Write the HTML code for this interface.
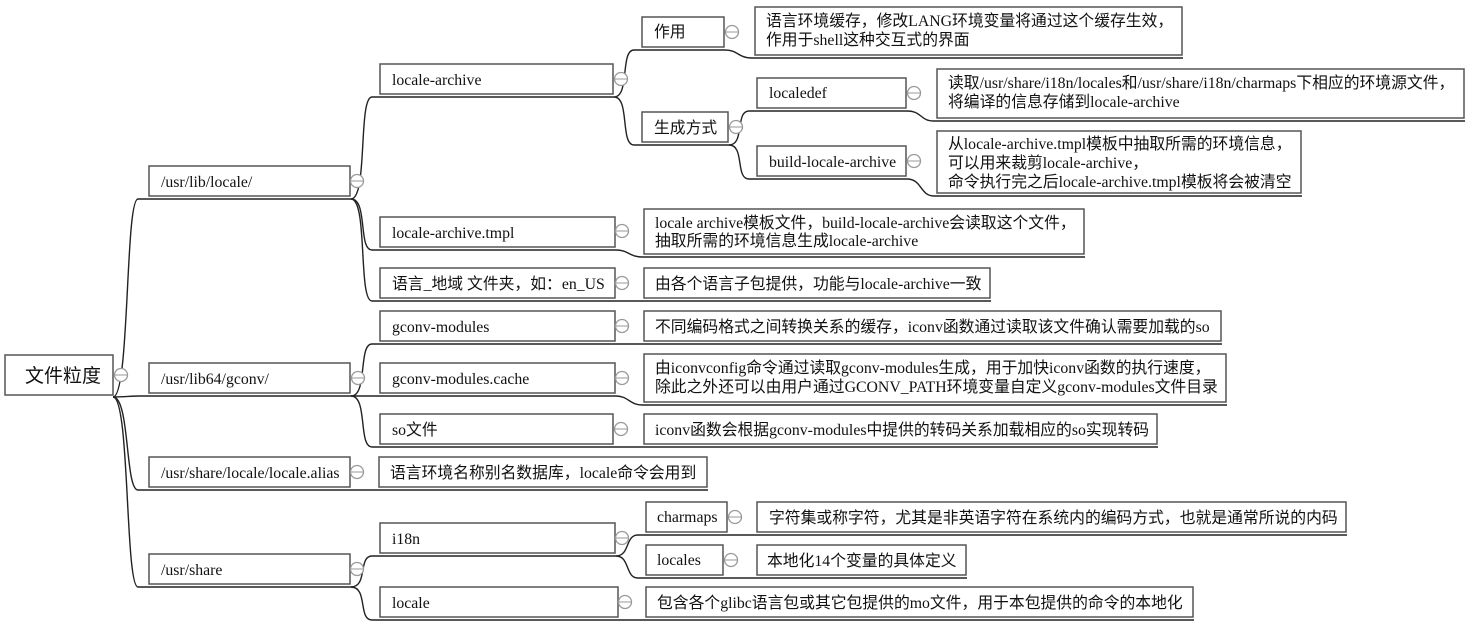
<!DOCTYPE html>
<html><head><meta charset="utf-8"><style>
html,body{margin:0;padding:0;background:#fff;}
svg{display:block}
text{font-family:"Liberation Serif","Noto Sans CJK SC",serif;font-size:15.8px;fill:#111}
.b{fill:#fff;stroke:#555;stroke-width:1.5}
.l{fill:none;stroke:#222;stroke-width:1.4}
.c{fill:#fff;stroke:#999;stroke-width:1.3}
</style></head><body>
<svg width="1476" height="637" viewBox="0 0 1476 637" xmlns="http://www.w3.org/2000/svg">
<g class="l">
<path d="M113 397 C130 397 125 199 138 199 L351 199"/>
<path d="M113 397 C125 397 130 396 140 396 L351 396"/>
<path d="M113 397 C130 397 125 490 138 490 L351 490"/>
<path d="M113 397 C130 397 125 587 138 587 L351 587"/>
<path d="M351 199 C368 199 358 97 372 97 L614 97"/>
<path d="M351 199 C368 199 358 250 372 250 L616 250"/>
<path d="M351 199 C368 199 358 301 372 301 L616 301"/>
<path d="M351 396 C368 396 358 344 372 344 L616 344"/>
<path d="M351 396 L616 396"/>
<path d="M351 396 C368 396 358 447 372 447 L614 447"/>
<path d="M351 490 L708 490"/>
<path d="M351 587 C368 587 358 556 372 556 L616 556"/>
<path d="M351 587 C368 587 358 620 372 620 L619 620"/>
<path d="M614 97 C630 97 620 50 634 50 L725 50"/>
<path d="M614 97 C630 97 620 145 634 145 L729 145"/>
<path d="M725 50 C738 50 738 58 752 58 L1183 58"/>
<path d="M729 145 C745 145 735 111 749 111 L907 111"/>
<path d="M729 145 C745 145 735 179 749 179 L907 179"/>
<path d="M907 111 C922 111 920 121 934 121 L1465 121"/>
<path d="M907 179 C922 179 920 196 934 196 L1302 196"/>
<path d="M616 250 C628 250 630 257 642 257 L1085 257"/>
<path d="M616 301 L991 301"/>
<path d="M616 344 L1222 344"/>
<path d="M616 396 C628 396 630 405 642 405 L1227 405"/>
<path d="M614 447 L1158 447"/>
<path d="M616 556 C630 556 625 535 638 535 L728 535"/>
<path d="M616 556 C630 556 625 578 638 578 L724 578"/>
<path d="M728 535 L1347 535"/>
<path d="M724 578 L967 578"/>
<path d="M619 620 L1194 620"/>
</g>
<rect class="b" x="5" y="355" width="108" height="40"/>
<text x="25" y="382" style="font-size:19px">文件粒度</text>
<rect class="b" x="149" y="166" width="201" height="30"/><text x="161" y="187">/usr/lib/locale/</text>
<rect class="b" x="149" y="363" width="201" height="30"/><text x="161" y="384">/usr/lib64/gconv/</text>
<rect class="b" x="149" y="457" width="201" height="30"/><text x="161" y="478">/usr/share/locale/locale.alias</text>
<rect class="b" x="149" y="554" width="201" height="30"/><text x="161" y="575">/usr/share</text>

<rect class="b" x="380" y="64" width="233" height="30"/><text x="392" y="85">locale-archive</text>
<rect class="b" x="380" y="217" width="235" height="30"/><text x="392" y="238">locale-archive.tmpl</text>
<rect class="b" x="380" y="268" width="235" height="30"/><text x="392" y="289">语言_地域 文件夹，如：en_US</text>
<rect class="b" x="380" y="311" width="235" height="30"/><text x="392" y="332">gconv-modules</text>
<rect class="b" x="380" y="363" width="235" height="30"/><text x="392" y="384">gconv-modules.cache</text>
<rect class="b" x="380" y="414" width="233" height="30"/><text x="392" y="435">so文件</text>
<rect class="b" x="379" y="457" width="328" height="30"/><text x="390" y="478">语言环境名称别名数据库，locale命令会用到</text>
<rect class="b" x="380" y="523" width="235" height="30"/><text x="392" y="544">i18n</text>
<rect class="b" x="380" y="587" width="238" height="30"/><text x="392" y="608">locale</text>

<rect class="b" x="642" y="17" width="82" height="30"/><text x="654" y="37">作用</text>
<rect class="b" x="642" y="112" width="86" height="30"/><text x="654" y="133">生成方式</text>
<rect class="b" x="644" y="209" width="440" height="45"/><text x="655" y="228">locale archive模板文件，build-locale-archive会读取这个文件，</text><text x="655" y="246">抽取所需的环境信息生成locale-archive</text>
<rect class="b" x="644" y="268" width="346" height="30"/><text x="655" y="289">由各个语言子包提供，功能与locale-archive一致</text>
<rect class="b" x="644" y="311" width="577" height="30"/><text x="655" y="332">不同编码格式之间转换关系的缓存，iconv函数通过读取该文件确认需要加载的so</text>
<rect class="b" x="644" y="354" width="582" height="48"/><text x="655" y="373">由iconvconfig命令通过读取gconv-modules生成，用于加快iconv函数的执行速度，</text><text x="655" y="392">除此之外还可以由用户通过GCONV_PATH环境变量自定义gconv-modules文件目录</text>
<rect class="b" x="644" y="414" width="513" height="30"/><text x="655" y="435">iconv函数会根据gconv-modules中提供的转码关系加载相应的so实现转码</text>
<rect class="b" x="646" y="502" width="81" height="30"/><text x="657" y="522">charmaps</text>
<rect class="b" x="646" y="545" width="77" height="30"/><text x="657" y="565">locales</text>
<rect class="b" x="646" y="587" width="547" height="30"/><text x="657" y="608">包含各个glibc语言包或其它包提供的mo文件，用于本包提供的命令的本地化</text>

<rect class="b" x="755" y="7" width="427" height="48"/><text x="766" y="26">语言环境缓存，修改LANG环境变量将通过这个缓存生效，</text><text x="766" y="45">作用于shell这种交互式的界面</text>
<rect class="b" x="757" y="78" width="149" height="30"/><text x="769" y="98">localedef</text>
<rect class="b" x="757" y="146" width="149" height="30"/><text x="769" y="167">build-locale-archive</text>
<rect class="b" x="757" y="502" width="589" height="30"/><text x="769" y="523">字符集或称字符，尤其是非英语字符在系统内的编码方式，也就是通常所说的内码</text>
<rect class="b" x="757" y="545" width="209" height="30"/><text x="767" y="566">本地化14个变量的具体定义</text>

<rect class="b" x="937" y="69" width="527" height="49"/><text x="948" y="88">读取/usr/share/i18n/locales和/usr/share/i18n/charmaps下相应的环境源文件，</text><text x="948" y="107">将编译的信息存储到locale-archive</text>
<rect class="b" x="937" y="131" width="364" height="62"/><text x="948" y="149">从locale-archive.tmpl模板中抽取所需的环境信息，</text><text x="948" y="168">可以用来裁剪locale-archive，</text><text x="948" y="187">命令执行完之后locale-archive.tmpl模板将会被清空</text>

<g>
<circle class="c" cx="121" cy="375" r="6.5"/><line x1="115" y1="375" x2="127" y2="375" stroke="#999"/>
<circle class="c" cx="357" cy="181" r="6.5"/><line x1="351" y1="181" x2="363" y2="181" stroke="#999"/>
<circle class="c" cx="358" cy="378" r="6.5"/><line x1="352" y1="378" x2="364" y2="378" stroke="#999"/>
<circle class="c" cx="357" cy="472" r="6.5"/><line x1="351" y1="472" x2="363" y2="472" stroke="#999"/>
<circle class="c" cx="357" cy="569" r="6.5"/><line x1="351" y1="569" x2="363" y2="569" stroke="#999"/>
<circle class="c" cx="621" cy="79" r="6.5"/><line x1="615" y1="79" x2="627" y2="79" stroke="#999"/>
<circle class="c" cx="622" cy="231" r="6.5"/><line x1="616" y1="231" x2="628" y2="231" stroke="#999"/>
<circle class="c" cx="622" cy="283" r="6.5"/><line x1="616" y1="283" x2="628" y2="283" stroke="#999"/>
<circle class="c" cx="622" cy="326" r="6.5"/><line x1="616" y1="326" x2="628" y2="326" stroke="#999"/>
<circle class="c" cx="622" cy="378" r="6.5"/><line x1="616" y1="378" x2="628" y2="378" stroke="#999"/>
<circle class="c" cx="621" cy="429" r="6.5"/><line x1="615" y1="429" x2="627" y2="429" stroke="#999"/>
<circle class="c" cx="622" cy="538" r="6.5"/><line x1="616" y1="538" x2="628" y2="538" stroke="#999"/>
<circle class="c" cx="625" cy="602" r="6.5"/><line x1="619" y1="602" x2="631" y2="602" stroke="#999"/>
<circle class="c" cx="732" cy="32" r="6.5"/><line x1="726" y1="32" x2="738" y2="32" stroke="#999"/>
<circle class="c" cx="736" cy="127" r="6.5"/><line x1="730" y1="127" x2="742" y2="127" stroke="#999"/>
<circle class="c" cx="735" cy="517" r="6.5"/><line x1="729" y1="517" x2="741" y2="517" stroke="#999"/>
<circle class="c" cx="731" cy="560" r="6.5"/><line x1="725" y1="560" x2="737" y2="560" stroke="#999"/>
<circle class="c" cx="914" cy="93" r="6.5"/><line x1="908" y1="93" x2="920" y2="93" stroke="#999"/>
<circle class="c" cx="914" cy="161" r="6.5"/><line x1="908" y1="161" x2="920" y2="161" stroke="#999"/>
</g>
</svg>
</body></html>
